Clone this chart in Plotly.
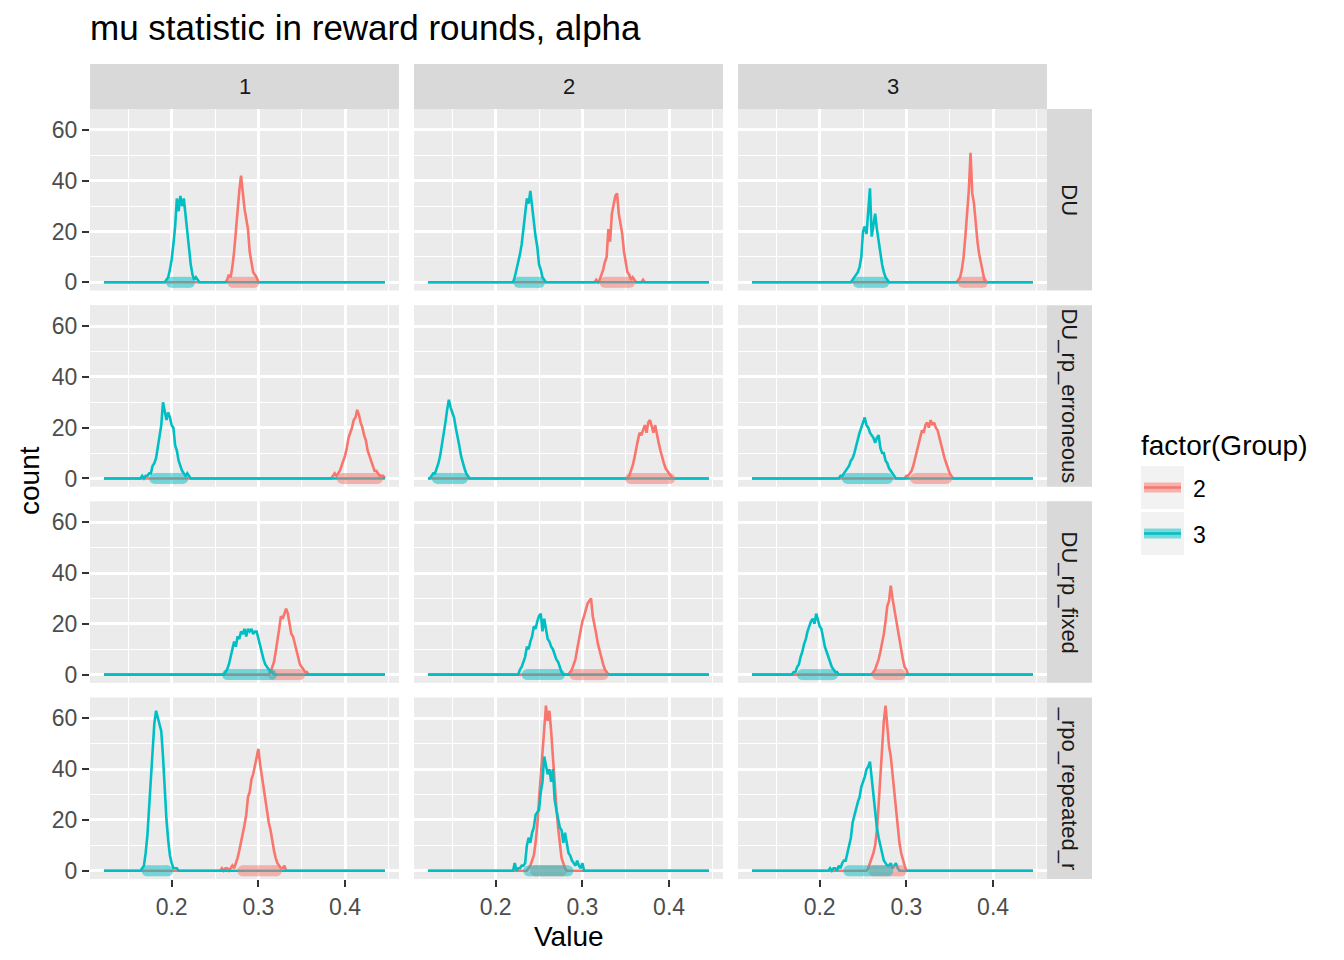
import plotly.graph_objects as go
from plotly.subplots import make_subplots

TITLE = "mu statistic in reward rounds, alpha"
COLS = ["1", "2", "3"]
ROWS = ["DU", "DU_rp_erroneous", "DU_rp_fixed", "DU_rpo_repeated_rounds"]
# the strip is too short for the last label, only its middle shows
ROW_STRIP_TEXT = ["DU", "DU_rp_erroneous", "DU_rp_fixed", "_rpo_repeated_r"]
GROUPS = ["2", "3"]
GROUP_COLORS = {"2": "#F8766D", "3": "#00BFC4"}

# frequency polygon bins
BIN_W = 0.002
X_MIN = 0.122
X_MAX = 0.446
X_TICKS = [0.2, 0.3, 0.4]
X_MINOR = [0.15, 0.25, 0.35, 0.45]
Y_TICKS = [0, 20, 40, 60]
Y_MINOR = [10, 30, 50]

# counts per bin, one list per panel; *_STARTS = value of the first bin of each list
DU_G2_STARTS = [0.262, 0.314, 0.358]
DU_G2_C1 = [0, 1, 3, 2, 6, 12, 20, 30, 36, 42, 34, 29, 25, 21, 12, 8, 4, 3, 2, 0]
DU_G2_C2 = [0, 1, 0, 1, 3, 5, 8, 10, 21, 16, 27, 31, 34, 35, 27, 23, 19, 12, 8, 4,
            3, 1, 2, 1, 0, 0, 0, 0, 1, 0]
DU_G2_C3 = [0, 1, 2, 5, 10, 18, 28, 36, 51, 35, 31, 23, 16, 11, 8, 4, 1, 0]
DU_G3_STARTS = [0.192, 0.220, 0.236]
DU_G3_C1 = [0, 1, 2, 5, 9, 15, 22, 33, 28, 34, 30, 33, 26, 20, 12, 7, 3, 1, 2, 1, 0]
DU_G3_C2 = [0, 2, 5, 7, 11, 15, 20, 27, 33, 31, 36, 29, 22, 18, 14, 7, 5, 2, 1, 0]
DU_G3_C3 = [0, 1, 2, 3, 4, 6, 10, 20, 22, 19, 28, 37, 18, 23, 27, 21, 16, 11, 7, 4,
            2, 1, 0]

ERR_G2_STARTS = [0.384, 0.352, 0.298]
ERR_G2_C1 = [0, 1, 2, 1, 2, 3, 5, 7, 9, 12, 16, 18, 20, 23, 24, 27, 25, 22, 20, 17,
             15, 11, 9, 7, 5, 3, 3, 2, 1, 1, 1, 0]
ERR_G2_C2 = [0, 1, 3, 5, 8, 12, 15, 18, 17, 19, 21, 18, 22, 23, 20, 18, 21, 17, 14, 11,
             8, 6, 4, 3, 2, 1, 0]
ERR_G2_C3 = [0, 1, 1, 2, 3, 5, 8, 11, 14, 16, 19, 18, 21, 22, 20, 23, 21, 22, 20, 19,
             16, 13, 10, 8, 6, 4, 2, 1, 0]
ERR_G3_STARTS = [0.164, 0.124, 0.222]
ERR_G3_C1 = [0, 1, 0, 1, 1, 2, 2, 5, 6, 8, 13, 17, 21, 30, 27, 23, 26, 24, 21, 20,
             13, 11, 7, 5, 3, 2, 1, 2, 1, 0]
ERR_G3_C2 = [0, 1, 2, 2, 4, 6, 9, 13, 18, 22, 27, 31, 28, 26, 24, 20, 17, 13, 9, 6,
             4, 2, 1, 0]
ERR_G3_C3 = [0, 1, 1, 2, 3, 4, 5, 7, 8, 10, 13, 15, 18, 20, 22, 24, 21, 20, 18, 17,
             16, 14, 16, 17, 12, 10, 10, 7, 6, 4, 3, 2, 1, 0]

FIX_G2_STARTS = [0.312, 0.284, 0.260]
FIX_G2_C1 = [0, 1, 3, 5, 9, 13, 18, 23, 22, 24, 26, 24, 20, 16, 15, 12, 9, 6, 4, 3,
             2, 1, 1, 0]
FIX_G2_C2 = [0, 1, 2, 4, 6, 10, 14, 18, 21, 23, 26, 28, 29, 30, 23, 20, 16, 12, 9, 6,
             4, 2, 1, 0]
FIX_G2_C3 = [0, 1, 2, 4, 6, 9, 12, 16, 21, 27, 29, 35, 30, 26, 22, 17, 13, 9, 6, 3,
             2, 0]
FIX_G3_STARTS = [0.260, 0.226, 0.168]
FIX_G3_C1 = [0, 1, 2, 4, 7, 10, 13, 11, 15, 14, 17, 16, 18, 15, 18, 17, 18, 16, 17, 17,
             14, 11, 9, 6, 4, 3, 2, 1, 1, 0]
FIX_G3_C2 = [0, 2, 3, 5, 7, 11, 10, 13, 15, 19, 18, 21, 23, 24, 17, 22, 17, 14, 13, 11,
             10, 8, 6, 5, 3, 1, 0]
FIX_G3_C3 = [0, 1, 1, 3, 4, 7, 9, 12, 14, 17, 19, 21, 22, 20, 24, 21, 19, 18, 14, 11,
             9, 7, 5, 3, 2, 1, 1, 0]

REP_G2_STARTS = [0.256, 0.236, 0.254]
REP_G2_C1 = [0, 1, 0, 1, 1, 0, 1, 2, 1, 3, 5, 8, 11, 14, 18, 22, 29, 31, 36, 38,
             41, 45, 48, 42, 37, 33, 28, 23, 19, 16, 11, 8, 5, 3, 2, 1, 1, 2, 0]
REP_G2_C2 = [0, 1, 2, 4, 6, 11, 18, 28, 38, 48, 56, 65, 59, 63, 55, 44, 35, 25, 17, 10,
             5, 3, 1, 0]
REP_G2_C3 = [0, 1, 3, 5, 7, 10, 16, 26, 38, 50, 59, 65, 55, 49, 45, 38, 30, 22, 16, 11,
             7, 4, 2, 0]
REP_G3_STARTS = [0.164, 0.220, 0.210]
REP_G3_C1 = [0, 1, 2, 7, 14, 25, 37, 49, 58, 63, 60, 57, 55, 45, 31, 20, 12, 6, 3, 1,
             1, 1, 0]
REP_G3_C2 = [0, 3, 0, 1, 1, 2, 2, 3, 10, 13, 11, 15, 17, 22, 23, 24, 31, 35, 45, 41,
             38, 40, 35, 40, 28, 24, 21, 17, 16, 11, 15, 10, 7, 6, 4, 3, 2, 4, 2, 1,
             3, 0]
REP_G3_C3 = [0, 1, 0, 1, 1, 0, 2, 1, 3, 4, 4, 7, 10, 13, 19, 22, 25, 27, 29, 33,
             35, 37, 40, 41, 43, 36, 31, 24, 17, 13, 10, 6, 4, 3, 2, 2, 3, 1, 2, 3,
             1, 0]

# intervals drawn as thick bars on the baseline, (low, high) per column
DU_G2_INT = [(0.2706, 0.2948), (0.3260, 0.3545), (0.3657, 0.3877)]
DU_G3_INT = [(0.1998, 0.2206), (0.2267, 0.2506), (0.2445, 0.2740)]
ERR_G2_INT = [(0.3969, 0.4373), (0.3557, 0.4007), (0.3106, 0.3464)]
ERR_G3_INT = [(0.1805, 0.2128), (0.1328, 0.1617), (0.2321, 0.2783)]
FIX_G2_INT = [(0.3175, 0.3476), (0.2913, 0.3237), (0.2667, 0.2933)]
FIX_G3_INT = [(0.2644, 0.3149), (0.2364, 0.2737), (0.1801, 0.2148)]
REP_G2_INT = [(0.2821, 0.3207), (0.2460, 0.2760), (0.2625, 0.2941)]
REP_G3_INT = [(0.1717, 0.1955), (0.2382, 0.2833), (0.2336, 0.2786)]

COUNTS = {
    ("DU", "2"): (DU_G2_STARTS, [DU_G2_C1, DU_G2_C2, DU_G2_C3]),
    ("DU", "3"): (DU_G3_STARTS, [DU_G3_C1, DU_G3_C2, DU_G3_C3]),
    ("DU_rp_erroneous", "2"): (ERR_G2_STARTS, [ERR_G2_C1, ERR_G2_C2, ERR_G2_C3]),
    ("DU_rp_erroneous", "3"): (ERR_G3_STARTS, [ERR_G3_C1, ERR_G3_C2, ERR_G3_C3]),
    ("DU_rp_fixed", "2"): (FIX_G2_STARTS, [FIX_G2_C1, FIX_G2_C2, FIX_G2_C3]),
    ("DU_rp_fixed", "3"): (FIX_G3_STARTS, [FIX_G3_C1, FIX_G3_C2, FIX_G3_C3]),
    ("DU_rpo_repeated_rounds", "2"): (REP_G2_STARTS, [REP_G2_C1, REP_G2_C2, REP_G2_C3]),
    ("DU_rpo_repeated_rounds", "3"): (REP_G3_STARTS, [REP_G3_C1, REP_G3_C2, REP_G3_C3]),
}
INTERVALS = {
    ("DU", "2"): DU_G2_INT, ("DU", "3"): DU_G3_INT,
    ("DU_rp_erroneous", "2"): ERR_G2_INT, ("DU_rp_erroneous", "3"): ERR_G3_INT,
    ("DU_rp_fixed", "2"): FIX_G2_INT, ("DU_rp_fixed", "3"): FIX_G3_INT,
    ("DU_rpo_repeated_rounds", "2"): REP_G2_INT, ("DU_rpo_repeated_rounds", "3"): REP_G3_INT,
}

FONT = "Liberation Sans, Arial, Helvetica, sans-serif"
# page body has an 8px margin, so the figure is a bit smaller than the window
OFF = 8
W, H = 1344 - OFF, 960 - OFF
L, R, T, B = 90 - OFF, 297, 109 - OFF, 81     # plot area 957 x 770 px
PW, PH = W - L - R, H - T - B
STRIP = 45


def px_x(px):
    # window pixel -> paper x
    return (px - OFF - L) / PW


def px_y(py):
    # window pixel -> paper y
    return (H - B - (py - OFF)) / PH


n_bins = int(round((X_MAX - X_MIN) / BIN_W)) + 1
bin_x = [round(X_MIN + i * BIN_W, 4) for i in range(n_bins)]


def polygon(start, counts):
    ys = [0] * n_bins
    i0 = int(round((start - X_MIN) / BIN_W))
    for k, c in enumerate(counts):
        ys[i0 + k] = c
    return ys


fig = make_subplots(rows=len(ROWS), cols=len(COLS),
                    horizontal_spacing=15 / PW, vertical_spacing=14.6 / PH)

# lines first (group 3 on top), then the translucent interval bars
for ri, row in enumerate(ROWS):
    for ci in range(len(COLS)):
        for g in GROUPS:
            starts, lists = COUNTS[(row, g)]
            fig.add_trace(go.Scatter(
                x=bin_x, y=polygon(starts[ci], lists[ci]),
                mode="lines", line=dict(color=GROUP_COLORS[g], width=2.6),
                showlegend=False, hoverinfo="skip",
            ), row=ri + 1, col=ci + 1)
for ri, row in enumerate(ROWS):
    for ci in range(len(COLS)):
        for g in GROUPS:
            lo, hi = INTERVALS[(row, g)][ci]
            fig.add_trace(go.Scatter(
                x=[lo, hi], y=[0, 0], mode="lines+markers",
                line=dict(color=GROUP_COLORS[g], width=11),
                marker=dict(color=GROUP_COLORS[g], size=11),
                opacity=0.5, showlegend=False, hoverinfo="skip",
            ), row=ri + 1, col=ci + 1)

ymax = max(max(c) for _, lists in COUNTS.values() for c in lists)
span = X_MAX - X_MIN
x_range = [X_MIN - 0.05 * span, X_MAX + 0.05 * span]
y_range = [-0.05 * ymax, 1.05 * ymax]

tick_font = dict(family=FONT, size=23, color="#4D4D4D")
for ri in range(len(ROWS)):
    for ci in range(len(COLS)):
        bottom = ri == len(ROWS) - 1
        left = ci == 0
        fig.update_xaxes(
            range=x_range, tickmode="array", tickvals=X_TICKS,
            ticktext=[f"{v:.1f}" for v in X_TICKS],
            showgrid=True, gridcolor="white", gridwidth=2.7,
            minor=dict(tickmode="array", tickvals=X_MINOR, showgrid=True,
                       gridcolor="white", gridwidth=1.3, ticks=""),
            zeroline=False, showline=False,
            ticks="outside" if bottom else "", ticklen=7, tickwidth=2,
            tickcolor="#333333", showticklabels=bottom, tickfont=tick_font,
            row=ri + 1, col=ci + 1)
        fig.update_yaxes(
            range=y_range, tickmode="array", tickvals=Y_TICKS,
            showgrid=True, gridcolor="white", gridwidth=2.7,
            minor=dict(tickmode="array", tickvals=Y_MINOR, showgrid=True,
                       gridcolor="white", gridwidth=1.3, ticks=""),
            zeroline=False, showline=False,
            ticks="outside" if left else "", ticklen=7, tickwidth=2,
            tickcolor="#333333", showticklabels=left, tickfont=tick_font,
            row=ri + 1, col=ci + 1)

shapes, annotations = [], []
strip_font = dict(family=FONT, size=22, color="#1A1A1A")

# column strips on top
for ci, lab in enumerate(COLS):
    d = fig.get_subplot(1, ci + 1).xaxis.domain
    shapes.append(dict(type="rect", xref="paper", yref="paper",
                       x0=d[0], x1=d[1], y0=1, y1=1 + STRIP / PH,
                       fillcolor="#D9D9D9", line=dict(width=0), layer="below"))
    annotations.append(dict(text=lab, xref="paper", yref="paper",
                            x=(d[0] + d[1]) / 2, y=1 + STRIP / PH / 2,
                            showarrow=False, font=strip_font,
                            xanchor="center", yanchor="middle"))

# row strips on the right
for ri, lab in enumerate(ROW_STRIP_TEXT):
    d = fig.get_subplot(ri + 1, 1).yaxis.domain
    shapes.append(dict(type="rect", xref="paper", yref="paper",
                       x0=1, x1=1 + STRIP / PW, y0=d[0], y1=d[1],
                       fillcolor="#D9D9D9", line=dict(width=0), layer="below"))
    annotations.append(dict(text=lab, xref="paper", yref="paper",
                            x=1 + STRIP / PW / 2, y=(d[0] + d[1]) / 2,
                            showarrow=False, font=strip_font, textangle=90,
                            xanchor="center", yanchor="middle"))

# axis titles
annotations.append(dict(text="Value", xref="paper", yref="paper",
                        x=0.5, y=px_y(937), showarrow=False,
                        font=dict(family=FONT, size=28, color="black"),
                        xanchor="center", yanchor="middle"))
annotations.append(dict(text="count", xref="paper", yref="paper",
                        x=px_x(29), y=px_y(480), showarrow=False, textangle=-90,
                        font=dict(family=FONT, size=28, color="black"),
                        xanchor="center", yanchor="middle"))

# legend, drawn by hand to get ggplot-like keys
annotations.append(dict(text="factor(Group)", xref="paper", yref="paper",
                        x=px_x(1139), y=px_y(445), showarrow=False,
                        font=dict(family=FONT, size=28, color="black"),
                        xanchor="left", yanchor="middle"))
for k, g in enumerate(GROUPS):
    top = 466 + k * 46
    cy = top + 21.5
    shapes.append(dict(type="rect", xref="paper", yref="paper",
                       x0=px_x(1141), x1=px_x(1184), y0=px_y(top + 43), y1=px_y(top),
                       fillcolor="#F2F2F2", line=dict(width=0)))
    shapes.append(dict(type="line", xref="paper", yref="paper",
                       x0=px_x(1144), x1=px_x(1181), y0=px_y(cy), y1=px_y(cy),
                       line=dict(color=GROUP_COLORS[g], width=10), opacity=0.5))
    shapes.append(dict(type="line", xref="paper", yref="paper",
                       x0=px_x(1144), x1=px_x(1181), y0=px_y(cy), y1=px_y(cy),
                       line=dict(color=GROUP_COLORS[g], width=2.6)))
    annotations.append(dict(text=g, xref="paper", yref="paper",
                            x=px_x(1191), y=px_y(cy + 1), showarrow=False,
                            font=dict(family=FONT, size=23, color="black"),
                            xanchor="left", yanchor="middle"))

fig.update_layout(
    width=W, height=H,
    margin=dict(l=L, r=R, t=T, b=B),
    paper_bgcolor="white", plot_bgcolor="#EBEBEB",
    font=dict(family=FONT, color="black"),
    title=dict(text=TITLE, x=L / W, xanchor="left", y=1 - (28 - OFF) / H,
               yanchor="middle", font=dict(family=FONT, size=35, color="black")),
    showlegend=False,
    shapes=shapes, annotations=annotations,
)

fig.write_html("out.html")
